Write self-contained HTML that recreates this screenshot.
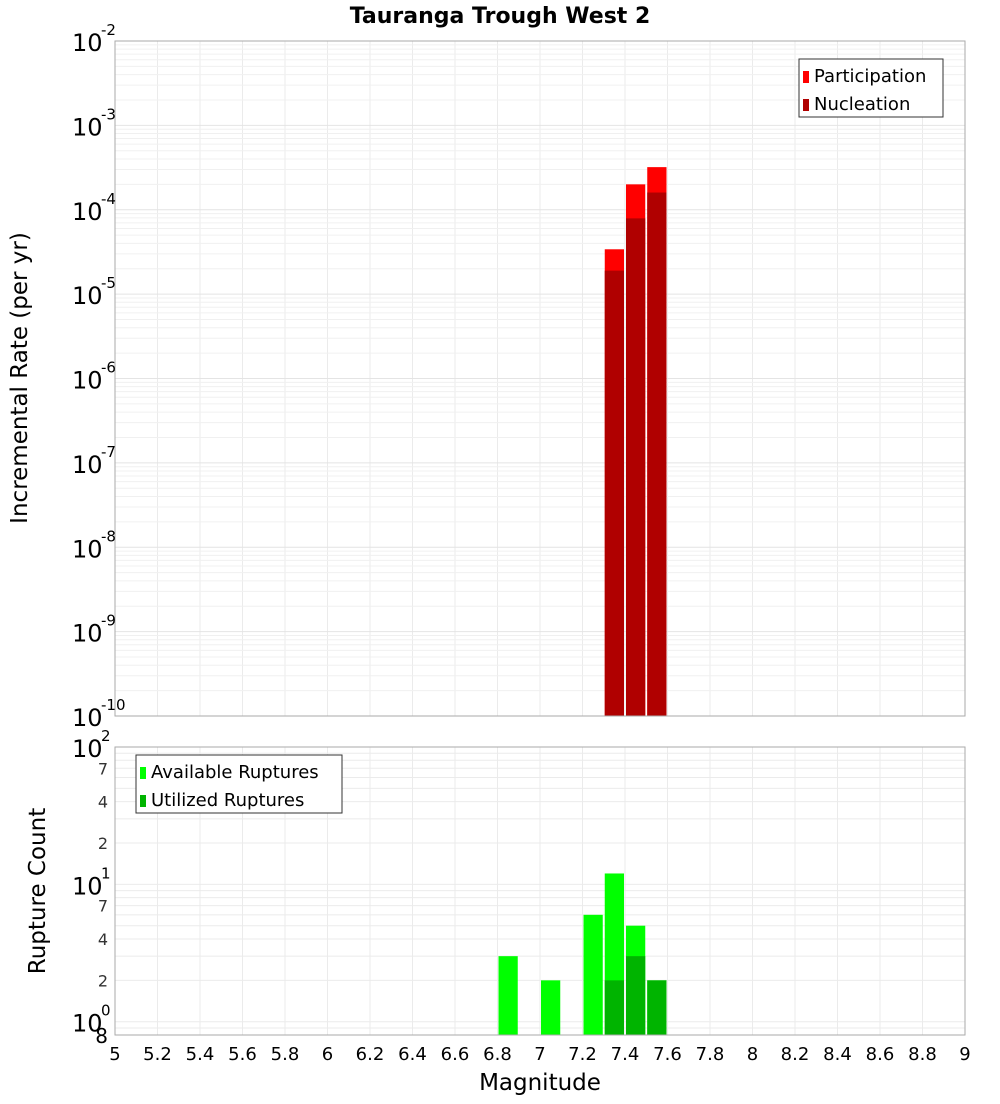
<!DOCTYPE html>
<html><head><meta charset="utf-8"><style>
body{margin:0;background:#fff;font-family:"DejaVu Sans","Liberation Sans",sans-serif}
</style></head><body>
<svg id="c" width="1000" height="1100" xmlns="http://www.w3.org/2000/svg" font-family="DejaVu Sans, Liberation Sans, sans-serif">
<text x="500" y="23" text-anchor="middle" font-size="22" font-weight="bold">Tauranga Trough West 2</text>
<g id="topg"></g><g id="botg"></g>
<text transform="translate(27,378) rotate(-90)" text-anchor="middle" font-size="23">Incremental Rate (per yr)</text>
<text transform="translate(45,891) rotate(-90)" text-anchor="middle" font-size="23">Rupture Count</text>
<text x="540" y="1090" text-anchor="middle" font-size="23">Magnitude</text>
</svg>
<script>
const mags=[7.35,7.45,7.55];
const participation=[3.4e-5,2.0e-4,3.2e-4];
const nucleation=[1.9e-5,7.9e-5,1.6e-4];
const availMags=[6.85,7.05,7.25,7.35,7.45,7.55];
const available=[3,2,6,12,5,2];
const utilMags=[7.35,7.45,7.55];
const utilized=[2,3,2];
const xTicks=[5,5.2,5.4,5.6,5.8,6,6.2,6.4,6.6,6.8,7,7.2,7.4,7.6,7.8,8,8.2,8.4,8.6,8.8,9];
const topExps=[-10,-9,-8,-7,-6,-5,-4,-3,-2];

const NS="http://www.w3.org/2000/svg";
const X0=115,X1=965;
const x=m=>X0+(m-5)/4*(X1-X0);
const T0=41,T1=716,B0=747,B1=1035;
const yT=v=>T1-(Math.log10(v)+10)/8*(T1-T0);
const bMin=Math.log10(0.8);
const yB=v=>B1-(Math.log10(v)-bMin)/(2-bMin)*(B1-B0);
function mk(p,tag,a,txt){const e=document.createElementNS(NS,tag);for(const k in a)e.setAttribute(k,a[k]);if(txt!==undefined)e.textContent=txt;p.appendChild(e);return e;}
const gTop=document.getElementById('topg'),gBot=document.getElementById('botg');
function vgrid(g,y0,y1){xTicks.forEach(t=>{const l=mk(g,'line',{x1:x(t),x2:x(t),y1:y0,y2:y1,stroke:'#ebebeb'});

});}
vgrid(gTop,T0,T1);vgrid(gBot,B0,B1);
for(let e=-10;e<-2;e++)for(let k=1;k<10;k++){const y=yT(k*Math.pow(10,e));const l=mk(gTop,'line',{x1:X0,x2:X1,y1:y,y2:y,stroke:k==1?'#e4e4e4':'#f0f0f0'});

}
for(let e=-1;e<2;e++)for(let k=1;k<10;k++){const v=k*Math.pow(10,e);if(v<0.8)continue;const y=yB(v);const l=mk(gBot,'line',{x1:X0,x2:X1,y1:y,y2:y,stroke:'#ebebeb'});

}
const w=x(5.1)-x(5)-2;
mags.forEach((m,i)=>{let r=mk(gTop,'rect',{x:x(m)-w/2,y:yT(participation[i]),width:w,height:T1-yT(participation[i]),fill:'#ff0000'});


r=mk(gTop,'rect',{x:x(m)-w/2,y:yT(nucleation[i]),width:w,height:T1-yT(nucleation[i]),fill:'#b00000'});

});
availMags.forEach((m,i)=>{const r=mk(gBot,'rect',{x:x(m)-w/2,y:yB(available[i]),width:w,height:B1-yB(available[i]),fill:'#00ff00'});

});
utilMags.forEach((m,i)=>{const r=mk(gBot,'rect',{x:x(m)-w/2,y:yB(utilized[i]),width:w,height:B1-yB(utilized[i]),fill:'#00b400'});

});
let f=mk(gTop,'rect',{x:X0,y:T0,width:X1-X0,height:T1-T0,fill:'none',stroke:'#aaa'});

f=mk(gBot,'rect',{x:X0,y:B0,width:X1-X0,height:B1-B0,fill:'none',stroke:'#aaa'});

topExps.forEach(e=>{const y=yT(Math.pow(10,e));const t=mk(gTop,'text',{x:72,y:y+10,'font-size':24},'10');

const s=mk(gTop,'text',{x:101,y:y-6,'font-size':15},String(e));
});
[[100,'10','2'],[10,'10','1'],[1,'10','0']].forEach(([v,b,e])=>{const y=yB(v);const t=mk(gBot,'text',{x:72,y:y+10,'font-size':24},b);

const s=mk(gBot,'text',{x:101,y:y-6,'font-size':15},e);
});
[[7,70],[4,40],[2,20],[7,7],[4,4],[2,2],[8,0.8]].forEach(([lab,v])=>{const y=yB(v);const t=mk(gBot,'text',{x:108,y:y+(v==0.8?8:6),'font-size':v==0.8?20:16,'text-anchor':'end',fill:v==0.8?'#000':'#333'},String(lab));
});
xTicks.forEach(t=>{const e=mk(gBot,'text',{x:x(t),y:1060,'font-size':18,'text-anchor':'middle'},String(t));
});
function legend(g,x0,y0,wd,items,name){const lg=mk(g,'g',{});
mk(lg,'rect',{x:x0,y:y0,width:wd,height:58,fill:'#fff',stroke:'#333'});
items.forEach(([c,l],i)=>{mk(lg,'rect',{x:x0+4,y:y0+12+i*28,width:6,height:12,fill:c});
const t=mk(lg,'text',{x:x0+15,y:y0+23+i*28,'font-size':18},l);
});}
legend(gTop,799,59,144,[['#ff0000','Participation'],['#b00000','Nucleation']],'top-legend');
legend(gBot,136,755,206,[['#00ff00','Available Ruptures'],['#00b400','Utilized Ruptures']],'bottom-legend');
</script>
</body></html>
